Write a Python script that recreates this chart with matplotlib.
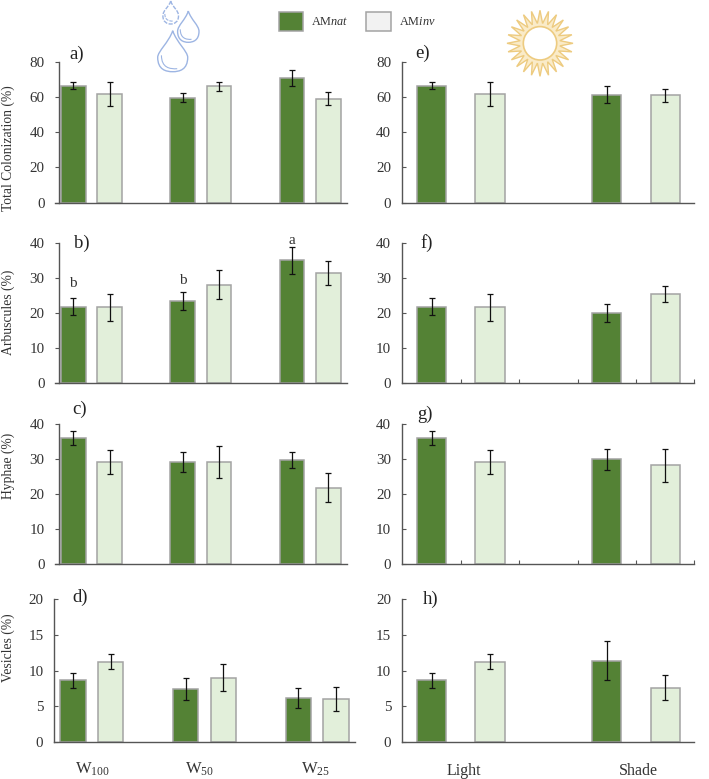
import numpy as np
import matplotlib
matplotlib.use("Agg")
import matplotlib.pyplot as plt
from matplotlib.patches import Patch, PathPatch, Polygon, Circle
from matplotlib.path import Path

plt.rcParams["font.family"] = ["Liberation Serif", "DejaVu Serif"]
plt.rcParams["mathtext.fontset"] = "custom"
plt.rcParams["mathtext.rm"] = "Liberation Serif"
plt.rcParams["mathtext.it"] = "Liberation Serif:italic"

W, H = 709, 779

NAT_COLOR = "#548235"
INV_COLOR = "#E2EFDA"
EDGE = "#A3A3A3"
AXIS = "#555555"
TEXT = "#333333"

water_labels = [r"W$_{100}$", r"W$_{50}$", r"W$_{25}$"]
light_labels = ["Light", "Shade"]

# water panels: W100 nat, W100 inv, W50 nat, W50 inv, W25 nat, W25 inv
total_water = [66.5, 61.9, 59.8, 66.3, 70.9, 59.2]
total_water_err = [2.0, 6.6, 2.5, 2.7, 4.6, 3.6]
arb_water = [21.8, 21.6, 23.4, 28.0, 35.0, 31.4]
arb_water_err = [2.4, 3.85, 2.45, 4.1, 3.9, 3.35]
hyph_water = [36.0, 29.0, 29.0, 29.2, 29.6, 21.8]
hyph_water_err = [2.05, 3.4, 2.85, 4.55, 2.3, 4.05]
ves_water = [8.6, 11.2, 7.4, 9.0, 6.2, 6.0]
ves_water_err = [1.1, 1.05, 1.6, 1.9, 1.4, 1.65]

# light panels: Light nat, Light inv, Shade nat, Shade inv
total_light = [66.5, 61.9, 61.5, 61.1]
total_light_err = [2.0, 6.6, 4.7, 3.8]
arb_light = [21.8, 21.6, 20.0, 25.3]
arb_light_err = [2.4, 3.85, 2.6, 2.25]
hyph_light = [36.0, 29.0, 29.9, 28.2]
hyph_light_err = [2.05, 3.4, 3.0, 4.7]
ves_light = [8.6, 11.2, 11.4, 7.6]
ves_light_err = [1.1, 1.05, 2.8, 1.7]

water_x = [0, 1, 3, 4, 6, 7]
light_x = [0.5, 1.5, 3.5, 4.5]

fig = plt.figure(figsize=(W / 100, H / 100), dpi=100)


def px_axes(left, top, right, bottom):
    """Axes placed with reference pixel edges (origin top-left)."""
    ax = fig.add_axes([left / W, 1 - bottom / H, (right - left) / W, (bottom - top) / H])
    ax.patch.set_alpha(0)
    for s in ("top", "right"):
        ax.spines[s].set_visible(False)
    for s in ("left", "bottom"):
        ax.spines[s].set_color(AXIS)
        ax.spines[s].set_linewidth(1.0)
    return ax


def draw_bars(ax, xs, vals, errs, width):
    cols = [NAT_COLOR, INV_COLOR] * (len(xs) // 2)
    ax.bar(xs, vals, width=width, color=cols, edgecolor=EDGE, linewidth=1.1, zorder=2)
    ax.errorbar(xs, vals, yerr=errs, fmt="none", ecolor="#111111", elinewidth=0.9,
                capsize=2.3, capthick=0.9, zorder=3)


def water_panel(top, bottom, vals, errs, ymax, yticks, ylabel, label_y, last=False):
    left, right = (54.4, 354.6) if last else (55, 346.7)
    ax = px_axes(left, top, right, bottom)
    draw_bars(ax, water_x, vals, errs, 0.676)
    ax.set_xlim(-0.5, 7.5)
    ax.set_ylim(0, ymax)
    ax.set_yticks(yticks)
    if last:
        ax.tick_params(axis="y", direction="in", length=2.8, width=0.8, pad=8,
                       labelsize=10.8, labelcolor=TEXT, color=AXIS)
        ax.set_xticks([0.52, 3.37, 6.45], water_labels)
        ax.tick_params(axis="x", length=0, pad=13.5, labelsize=12, labelcolor=TEXT)
    else:
        ax.spines["left"].set_position(("data", -0.4))
        ax.tick_params(axis="y", direction="out", length=3.1, width=0.8, pad=7,
                       labelsize=10.8, labelcolor=TEXT, color=AXIS)
        ax.set_xticks([])
    ax.set_ylabel(ylabel, fontsize=9.8, color=TEXT, va="center")
    ax.yaxis.set_label_coords((8.5 - left) / (right - left), label_y)
    return ax


def light_panel(top, bottom, vals, errs, ymax, yticks, ticks=False, last=False):
    ax = px_axes(402.3, top, 694.3, bottom)
    draw_bars(ax, light_x, vals, errs, 0.5)
    ax.set_xlim(0, 5)
    ax.set_ylim(0, ymax)
    ax.set_yticks(yticks)
    ax.tick_params(axis="y", direction="in", length=2.8, width=0.8, pad=8,
                   labelsize=10.8, labelcolor=TEXT, color=AXIS)
    if last:
        ax.set_xticks([1.05, 4.05], light_labels)
        ax.tick_params(axis="x", length=0, pad=15, labelsize=11.5, labelcolor=TEXT)
    elif ticks:
        ax.set_xticks([1, 2, 3, 4, 5], [])
        ax.tick_params(axis="x", direction="in", length=2.8, width=0.8, color=AXIS)
    else:
        ax.set_xticks([])
    return ax


water_panel(62.3, 202.5, total_water, total_water_err, 80, range(0, 81, 20),
            "Total Colonization (%)", 0.39)
ax_b = water_panel(242.7, 383.3, arb_water, arb_water_err, 40, range(0, 41, 10),
                   "Arbuscules (%)", 0.507)
water_panel(423.7, 564, hyph_water, hyph_water_err, 40, range(0, 41, 10), "Hyphae (%)", 0.70)
water_panel(599.3, 741.7, ves_water, ves_water_err, 20, range(0, 21, 5), "Vesicles (%)", 0.658,
            last=True)

light_panel(62.3, 202.5, total_light, total_light_err, 80, range(0, 81, 20))
light_panel(242.7, 383.3, arb_light, arb_light_err, 40, range(0, 41, 10), ticks=True)
light_panel(423.7, 564, hyph_light, hyph_light_err, 40, range(0, 41, 10), ticks=True)
light_panel(599.3, 741.7, ves_light, ves_light_err, 20, range(0, 21, 5), last=True)

# significance letters on panel b
for x, y, s in [(0, 28.5, "b"), (3, 29.2, "b"), (6, 40.6, "a")]:
    ax_b.text(x, y, s, ha="center", va="center", fontsize=11, color=TEXT)

# panel letters
for s, px, py in [("a)", 77, 54), ("b)", 82, 243), ("c)", 80, 409), ("d)", 80.6, 597),
                  ("e)", 423, 53), ("f)", 426.7, 243), ("g)", 425, 414), ("h)", 431, 599)]:
    fig.text(px / W, 1 - py / H, s, ha="center", va="center", fontsize=13.5, color="#222222")

# legend
handles = [Patch(facecolor=NAT_COLOR, edgecolor=EDGE, linewidth=1.1),
           Patch(facecolor="#F2F2F2", edgecolor=EDGE, linewidth=1.1)]
fig.legend(handles, [r"AM$\it{nat}$", r"AM$\it{inv}$"], ncols=2, frameon=False, fontsize=8.8,
           loc="center left", bbox_to_anchor=(278.5 / W, 1 - 21.5 / H), borderpad=0,
           borderaxespad=0, handlelength=2.0, handleheight=1.9, handletextpad=0.65,
           columnspacing=1.45, labelcolor=TEXT)

# icons: water drops and sun, drawn in pixel space
deco = fig.add_axes([0, 0, 1, 1], zorder=5)
deco.set_xlim(0, W)
deco.set_ylim(H, 0)
deco.axis("off")


def drop(tip_x, tip_y, half, bottom, color="#9DB5E3", lw=1.0, ls="-"):
    mid = tip_y + (bottom - tip_y) * 0.65
    verts = [(tip_x, tip_y),
             (tip_x + half * 0.25, tip_y + (bottom - tip_y) * 0.28), (tip_x + half, mid - 6), (tip_x + half, mid),
             (tip_x + half, bottom - 2), (tip_x + half * 0.45, bottom), (tip_x, bottom),
             (tip_x - half * 0.45, bottom), (tip_x - half, bottom - 2), (tip_x - half, mid),
             (tip_x - half, mid - 6), (tip_x - half * 0.25, tip_y + (bottom - tip_y) * 0.28), (tip_x, tip_y)]
    codes = [Path.MOVETO] + [Path.CURVE4] * 12
    deco.add_patch(PathPatch(Path(verts, codes), fill=False, edgecolor=color, lw=lw, ls=ls))
    # inner highlight along the lower edge
    inner = [(tip_x - half * 0.75, mid - 2), (tip_x - half * 0.75, bottom - 4),
             (tip_x - half * 0.2, bottom - 2.5), (tip_x + half * 0.3, bottom - 3)]
    deco.add_patch(PathPatch(Path(inner, [Path.MOVETO] + [Path.CURVE4] * 3), fill=False,
                             edgecolor=color, lw=lw * 0.8, ls=ls))


drop(170.7, 1, 7.8, 24, ls=(0, (3, 1)))
drop(188.3, 11, 10.7, 42.3)
drop(172.7, 30.7, 15, 71.7)

sun_cx, sun_cy = 540, 43.3
sun_angles = np.linspace(0, 2 * np.pi, 48, endpoint=False) + np.pi / 2
sun_radii = np.where(np.arange(48) % 2 == 0, 33, 20)
sun_pts = np.column_stack([sun_cx + sun_radii * np.cos(sun_angles), sun_cy - sun_radii * np.sin(sun_angles)])
deco.add_patch(Polygon(sun_pts, closed=True, facecolor="#FAEBC8", edgecolor="#EDCB80", lw=1.0))
deco.add_patch(Circle((sun_cx, sun_cy), 16.7, facecolor="white", edgecolor="#EDCB80", lw=1.2))

fig.savefig("out.png", dpi=100)
